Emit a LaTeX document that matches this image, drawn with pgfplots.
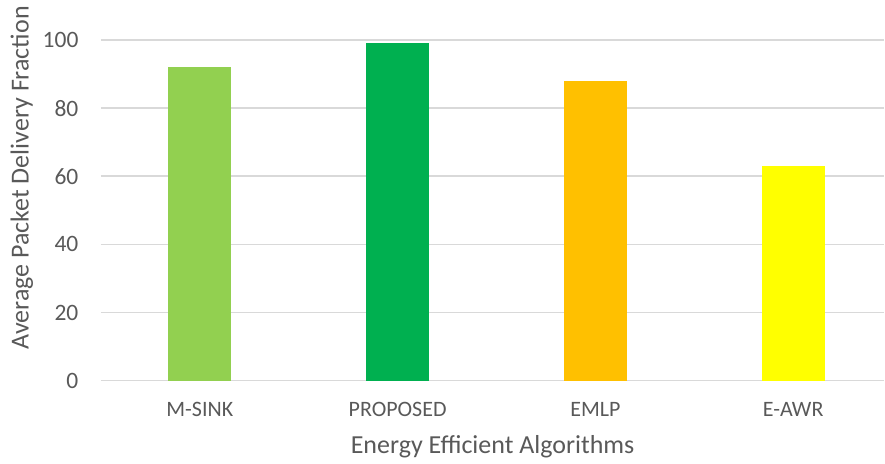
\documentclass[border=0pt]{standalone}
\usepackage{fontspec}
\setmainfont{Carlito}
\usepackage{pgfplots}
\pgfplotsset{compat=1.18}
\definecolor{txtgray}{HTML}{595959}
\definecolor{gridgray}{HTML}{D9D9D9}
\definecolor{msink}{HTML}{92D050}
\definecolor{proposed}{HTML}{00B050}
\definecolor{emlp}{HTML}{FFC000}
\definecolor{eawr}{HTML}{FFFF00}
\begin{document}
\begin{tikzpicture}
\begin{axis}[
  scale only axis,
  width=784pt, height=341pt,
  xmin=-0.5, xmax=3.46, ymin=0, ymax=100,
  axis line style={draw=none},
  ytick={0,20,...,100},
  ymajorgrids,
  grid style={gridgray, line width=1.6pt},
  xtick={0,1,2,3},
  xticklabels={M-SINK,PROPOSED,EMLP,E-AWR},
  major tick length=0pt,
  /pgf/number format/assume math mode=true,
  yticklabel style={font=\fontsize{23.5}{26}\selectfont, text=txtgray, xshift=-19pt},
  xticklabel style={font=\fontsize{22}{25}\selectfont, text=txtgray, anchor=center, yshift=-29pt},
  label style={font=\fontsize{26}{29}\selectfont, text=txtgray},
  xlabel={Energy Efficient Algorithms},
  ylabel={Average Packet Delivery Fraction},
  xlabel style={at={(axis description cs:0.5,-0.1935)}, anchor=center},
  ylabel style={at={(axis description cs:-0.1008,0.595)}, anchor=center},
  clip=false,
]
\addplot[ybar, bar width=63pt, bar shift=0pt, fill=msink, draw=none] coordinates {(0,92)};
\addplot[ybar, bar width=63pt, bar shift=0pt, fill=proposed, draw=none] coordinates {(1,99)};
\addplot[ybar, bar width=63pt, bar shift=0pt, fill=emlp, draw=none] coordinates {(2,88)};
\addplot[ybar, bar width=63pt, bar shift=0pt, fill=eawr, draw=none] coordinates {(3,63)};
\end{axis}
% fix the page to the full figure frame
\path (current axis.south west) ++(-101pt,-83pt) coordinate (bbsw);
\path (current axis.north east) ++(0pt,40pt) coordinate (bbne);
\useasboundingbox (bbsw) rectangle (bbne);
\end{tikzpicture}
\end{document}
